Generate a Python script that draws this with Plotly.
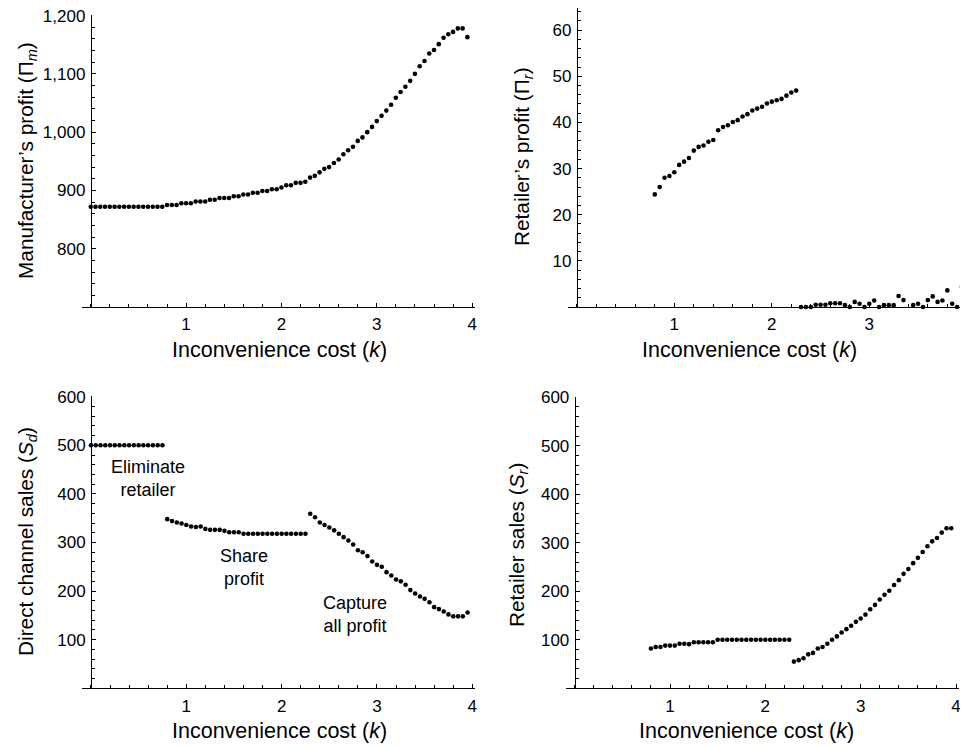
import plotly.graph_objects as go

# page body has an 8px margin, so the figure is drawn 8px in from the top-left
OFF = 8
W, H = 968 - OFF, 747 - OFF

# ---------------- data ----------------
K_ELIM = [0.00, 0.05, 0.10, 0.15, 0.20, 0.25, 0.30, 0.35, 0.40, 0.45, 0.50, 0.55,
          0.60, 0.65, 0.70, 0.75]
K_SHARE = [0.80, 0.85, 0.90, 0.95, 1.00, 1.05, 1.10, 1.15, 1.20, 1.25, 1.30, 1.35,
           1.40, 1.45, 1.50, 1.55, 1.60, 1.65, 1.70, 1.75, 1.80, 1.85, 1.90, 1.95,
           2.00, 2.05, 2.10, 2.15, 2.20, 2.25]
K_CAPTURE = [2.30, 2.35, 2.40, 2.45, 2.50, 2.55, 2.60, 2.65, 2.70, 2.75, 2.80, 2.85,
             2.90, 2.95, 3.00, 3.05, 3.10, 3.15, 3.20, 3.25, 3.30, 3.35, 3.40, 3.45,
             3.50, 3.55, 3.60, 3.65, 3.70, 3.75, 3.80, 3.85, 3.90, 3.95]

# Manufacturer's profit
PI_M_ELIM = [872, 872, 872, 872, 872, 872, 872, 872, 872, 872, 872, 872, 872, 872, 872, 872]
PI_M_SHARE = [875, 875, 875, 878, 878, 878, 881, 881, 881, 884, 884, 887, 887, 887, 890,
              890, 893, 893, 896, 896, 899, 899, 902, 902, 905, 909, 909, 913, 913, 915]
PI_M_CAPTURE = [922, 925, 931, 937, 940, 947, 953, 962, 969, 975, 985, 991, 1000, 1009,
                1019, 1028, 1037, 1047, 1059, 1069, 1078, 1088, 1100, 1113, 1122, 1135,
                1141, 1151, 1162, 1168, 1172, 1178, 1178, 1163]

# Retailer's profit
PI_R_SHARE = [24.4, 26.0, 28.0, 28.4, 29.2, 30.8, 31.5, 32.3, 33.9, 34.7, 35.0, 35.8,
              36.2, 38.3, 39.0, 39.4, 40.1, 40.5, 41.3, 41.8, 42.6, 43.0, 43.4, 44.1,
              44.5, 44.8, 45.1, 45.8, 46.5, 46.9]
PI_R_CAPTURE = [0, 0, 0, 0.5, 0.5, 0.5, 0.8, 0.8, 0.8, 0.4, 0, 1.1, 0.7, 0, 0.7, 1.4,
                0, 0.4, 0.4, 0.4, 2.4, 1.5, None, 0.4, 0.7, 0, 1.5, 2.3, 1.1, 1.4, 3.6,
                0.7, 0, 4.4]

# Direct channel sales
S_D_ELIM = [500, 500, 500, 500, 500, 500, 500, 500, 500, 500, 500, 500, 500, 500, 500, 500]
S_D_SHARE = [348, 344, 341, 339, 336, 333, 332, 333, 328, 326, 326, 326, 324, 321, 321,
             321, 318, 318, 318, 318, 318, 318, 318, 318, 318, 318, 318, 318, 318, 318]
S_D_CAPTURE = [359, 352, 341, 336, 331, 325, 318, 311, 304, 296, 284, 280, 272, 261, 254,
               250, 239, 232, 224, 220, 213, 202, 195, 189, 184, 177, 167, 163, 158, 152,
               148, 148, 148, 156]

# Retailer sales
S_R_SHARE = [82, 85, 85, 88, 88, 88, 92, 92, 91, 95, 95, 95, 95, 95, 100, 100, 100, 100,
             100, 100, 100, 100, 100, 100, 100, 100, 100, 100, 100, 100]
S_R_CAPTURE = [55, 58, 62, 70, 73, 82, 85, 92, 100, 107, 115, 122, 129, 137, 144, 152, 163,
               172, 183, 193, 201, 213, 223, 236, 246, 258, 269, 281, 293, 303, 310, 321,
               330, 330]

X_TICKS = [1, 2, 3, 4]
Y_TICKS_PIM = [800, 900, 1000, 1100, 1200]
Y_TICKS_PIR = [10, 20, 30, 40, 50, 60]
Y_TICKS_SALES = [100, 200, 300, 400, 500, 600]

X_TITLE = "Inconvenience cost (<i>k</i>)"
Y_TITLES = ["Manufacturer’s profit (Π<sub><i>m</i></sub>)",
            "Retailer’s profit (Π<sub><i>r</i></sub>)",
            "Direct channel sales (<i>S</i><sub><i>d</i></sub>)",
            "Retailer sales (<i>S</i><sub><i>r</i></sub>)"]

# ---------------- layout helpers ----------------
FONT = "Liberation Sans, Arial, Helvetica, sans-serif"


def fx(p):
    """page pixel x -> paper fraction"""
    return (p - OFF) / W


def fy(p):
    """page pixel y -> paper fraction"""
    return 1 - (p - OFF) / H


fig = go.Figure()
marker = dict(color="black", size=4.6, line=dict(width=0))

series = [
    ("x", "y", K_ELIM + K_SHARE + K_CAPTURE, PI_M_ELIM + PI_M_SHARE + PI_M_CAPTURE),
    ("x2", "y2", K_SHARE + K_CAPTURE, PI_R_SHARE + PI_R_CAPTURE),
    ("x3", "y3", K_ELIM + K_SHARE + K_CAPTURE, S_D_ELIM + S_D_SHARE + S_D_CAPTURE),
    ("x4", "y4", K_SHARE + K_CAPTURE, S_R_SHARE + S_R_CAPTURE),
]
for xa, ya, xs, ys in series:
    fig.add_trace(go.Scatter(x=xs, y=ys, mode="markers", marker=marker,
                             xaxis=xa, yaxis=ya, cliponaxis=False,
                             showlegend=False, hoverinfo="x+y"))

# panel geometry in page pixels
panels = [
    dict(xl=81.7, xr=475.0, xrange=[-0.095, 4.03], yb=307.0, yt=15.0, yrange=[700, 1201],
         x0=90.76, yticks=Y_TICKS_PIM, ydt=20, yfmt=",d"),
    dict(xl=568.0, xr=968.0, xrange=[-0.09, 4.012], yb=307.0, yt=8.0, yrange=[0, 64.8],
         x0=576.8, yticks=Y_TICKS_PIR, ydt=2, yfmt=""),
    dict(xl=81.9, xr=475.2, xrange=[-0.095, 4.03], yb=688.3, yt=396.2, yrange=[0, 601],
         x0=91.0, yticks=Y_TICKS_SALES, ydt=20, yfmt=""),
    dict(xl=565.6, xr=958.9, xrange=[-0.095, 4.03], yb=688.3, yt=396.8, yrange=[0, 601],
         x0=574.7, yticks=Y_TICKS_SALES, ydt=20, yfmt=""),
]

tickfont = dict(family=FONT, size=17, color="black")
layout = dict(width=W, height=H, margin=dict(l=0, r=0, t=0, b=0, pad=0, autoexpand=False),
              template="none", autosize=False,
              paper_bgcolor="white", plot_bgcolor="white", showlegend=False)

for i, p in enumerate(panels):
    n = "" if i == 0 else str(i + 1)
    layout["xaxis" + n] = dict(
        domain=[max(0.0, fx(p["xl"])), min(1.0, fx(p["xr"]))], range=p["xrange"],
        anchor="y" + n, automargin=False, ticklabeloverflow="allow",
        showline=True, linecolor="black", linewidth=1, mirror=False,
        tickmode="array", tickvals=X_TICKS, ticks="inside", ticklen=4, tickwidth=1,
        tickcolor="black", showgrid=False, zeroline=False, tickfont=tickfont,
        ticklabelstandoff=2,
        minor=dict(dtick=0.2, tick0=0, ticks="inside", ticklen=3, tickwidth=1,
                   tickcolor="black", showgrid=False),
        fixedrange=True)
    layout["yaxis" + n] = dict(
        domain=[max(0.0, fy(p["yb"])), min(1.0, fy(p["yt"]))], range=p["yrange"],
        anchor="free", position=fx(p["x0"]), automargin=False,
        ticklabeloverflow="allow",
        showline=True, linecolor="black", linewidth=1,
        tickmode="array", tickvals=p["yticks"], tickformat=p["yfmt"],
        ticks="inside", ticklen=4, tickwidth=1, tickcolor="black",
        showgrid=False, zeroline=False, tickfont=tickfont, ticklabelstandoff=2,
        minor=dict(dtick=p["ydt"], tick0=0, ticks="inside", ticklen=3, tickwidth=1,
                   tickcolor="black", showgrid=False),
        fixedrange=True)

annotations = []
# x-axis titles
for cx, cy in [(279, 350), (749, 350), (279, 731), (746, 731)]:
    annotations.append(dict(text=X_TITLE, x=fx(cx), y=fy(cy), xref="paper", yref="paper",
                            xanchor="center", yanchor="middle", showarrow=False,
                            font=dict(family=FONT, size=21.5, color="black")))
# y-axis titles
for t, (cx, cy) in zip(Y_TITLES, [(27, 161), (523, 157), (27, 542), (518, 545)]):
    annotations.append(dict(text=t, x=fx(cx), y=fy(cy), xref="paper", yref="paper",
                            xanchor="center", yanchor="middle", showarrow=False,
                            textangle=-90, font=dict(family=FONT, size=20.8, color="black")))

# strategy labels in the direct-sales panel
note_font = dict(family=FONT, size=18, color="black")
for t, kx, vy in [("Eliminate<br>retailer", 0.6, 431),
                  ("Share<br>profit", 1.6, 248),
                  ("Capture<br>all profit", 2.77, 151)]:
    annotations.append(dict(text=t, x=kx, y=vy, xref="x3", yref="y3", showarrow=False,
                            xanchor="center", yanchor="middle", align="center",
                            font=note_font))

layout["annotations"] = annotations
fig.update_layout(**layout)

fig.write_html("out.html", config={"displayModeBar": False})
